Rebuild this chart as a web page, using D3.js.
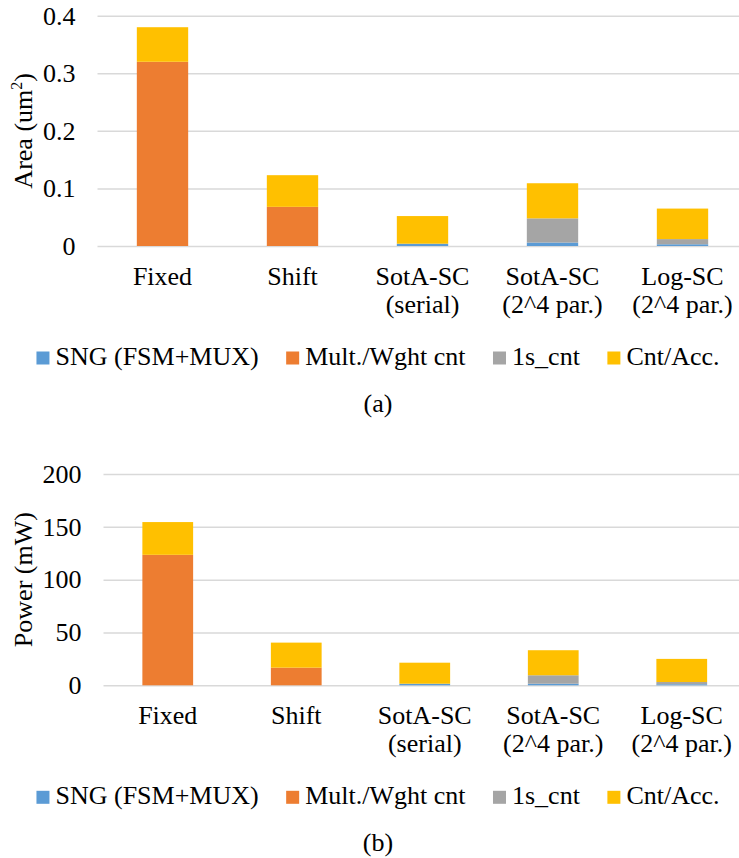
<!DOCTYPE html>
<html>
<head>
<meta charset="utf-8">
<script src="https://cdn.jsdelivr.net/npm/d3@7"></script>
</head>
<body style="margin:0;background:#fff">
<svg id="fig" width="739" height="858" font-family="Liberation Serif"></svg>
<script>
// Design variants shown on the x axis
const categories = ["Fixed", "Shift", "SotA-SC\n(serial)", "SotA-SC\n(2^4 par.)", "Log-SC\n(2^4 par.)"];

// Stack components, bottom to top
const seriesNames = ["SNG (FSM+MUX)", "Mult./Wght cnt", "1s_cnt", "Cnt/Acc."];
const seriesColors = ["#5B9BD5", "#ED7D31", "#A5A5A5", "#FFC000"];

// (a) Area, um^2
const areaSNG  = [0,     0,     0.004, 0.006, 0.003];
const areaMult = [0.32,  0.068, 0,     0,     0];
const areaOnes = [0,     0,     0,     0.042, 0.009];
const areaCnt  = [0.06,  0.055, 0.048, 0.061, 0.053];
const areaTicks = [0, 0.1, 0.2, 0.3, 0.4];

// (b) Power, mW
const powerSNG  = [0,     0,    1.5,  1.5,  1];
const powerMult = [123.5, 16.7, 0,    0,    0];
const powerOnes = [0,     0,    0,    8,    2.1];
const powerCnt  = [31,    23.7, 19.9, 23.7, 21.9];
const powerTicks = [0, 50, 100, 150, 200];

const svg = d3.select("#fig");
const FONT = 26;

function styleText(sel) {
  return sel
    .attr("font-family", "Liberation Serif")
    .style("font-family", '"Liberation Serif"')
    .attr("font-size", FONT)
    .attr("fill", "#000");
}

function panel(cfg) {
  const g = svg.append("g");
  const rows = categories.map((c, i) => ({
    cat: c,
    s0: cfg.values[0][i], s1: cfg.values[1][i], s2: cfg.values[2][i], s3: cfg.values[3][i]
  }));
  const stacked = d3.stack().keys(["s0", "s1", "s2", "s3"])(rows);

  const x = d3.scaleBand().domain(categories)
    .range([cfg.left, cfg.right]).paddingInner(0.605).paddingOuter(0.3025);
  const y = d3.scaleLinear().domain(cfg.domain).range([cfg.bottom, cfg.top]);

  // gridlines + tick labels
  const axis = d3.axisLeft(y).tickValues(cfg.ticks).tickFormat(cfg.fmt)
    .tickSize(-(739 - cfg.left)).tickPadding(22);
  const ag = g.append("g").attr("transform", `translate(${cfg.left},0)`).call(axis);
  ag.attr("font-family", "Liberation Serif").attr("font-size", FONT);
  ag.select(".domain").remove();
  ag.selectAll(".tick line").attr("stroke", "#d9d9d9").attr("stroke-width", 1.5);
  styleText(ag.selectAll(".tick text"));

  // stacked bars
  g.append("g").selectAll("g").data(stacked).join("g")
    .attr("fill", (d, i) => seriesColors[i])
    .selectAll("rect").data(d => d).join("rect")
    .attr("x", d => x(d.data.cat))
    .attr("width", x.bandwidth())
    .attr("y", d => y(d[1]))
    .attr("height", d => y(d[0]) - y(d[1]));

  // category labels (two lines where needed)
  const lab = styleText(g.append("g").selectAll("text").data(categories).join("text"))
    .attr("text-anchor", "middle")
    .attr("x", d => x(d) + x.bandwidth() / 2)
    .attr("y", cfg.bottom + 38.5);
  lab.selectAll("tspan").data(d => d.split("\n")).join("tspan")
    .attr("x", function () { return this.parentNode.getAttribute("x"); })
    .attr("dy", (d, i) => i === 0 ? 0 : 28)
    .text(d => d);

  // y-axis title
  const t = styleText(g.append("text"))
    .attr("transform", `translate(32,${(cfg.top + cfg.bottom) / 2}) rotate(-90)`)
    .attr("text-anchor", "middle");
  cfg.title(t);

  // legend, laid out from measured text widths and centred
  const lg = g.append("g");
  let cx = 0;
  seriesNames.forEach((name, i) => {
    lg.append("rect").attr("x", cx).attr("y", -13.5).attr("width", 13).attr("height", 13)
      .attr("fill", seriesColors[i]);
    const tx = styleText(lg.append("text")).attr("x", cx + 19).attr("y", 0).text(name);
    cx += 19 + tx.node().getComputedTextLength() + 27.5;
  });
  const lw = cx - 27.5;
  lg.attr("transform", `translate(${378 - lw / 2},${cfg.bottom + 119})`);

  // panel caption
  styleText(g.append("text")).attr("x", 378).attr("y", cfg.bottom + 165.5)
    .attr("text-anchor", "middle").text(cfg.caption);
}

panel({
  values: [areaSNG, areaMult, areaOnes, areaCnt],
  domain: [0, 0.4], ticks: areaTicks,
  fmt: d => d === 0 ? "0" : d3.format(".1f")(d),
  left: 97.5, right: 747.5, top: 15.7, bottom: 246,
  caption: "(a)",
  title: t => {
    t.append("tspan").text("Area (um");
    t.append("tspan").attr("font-size", 16).attr("dy", -10).text("2");
    t.append("tspan").attr("dy", 10).text(")");
  }
});

panel({
  values: [powerSNG, powerMult, powerOnes, powerCnt],
  domain: [0, 200], ticks: powerTicks,
  fmt: d3.format("d"),
  left: 103.5, right: 746, top: 474, bottom: 685.3,
  caption: "(b)",
  title: t => t.text("Power (mW)")
});
</script>
</body>
</html>
